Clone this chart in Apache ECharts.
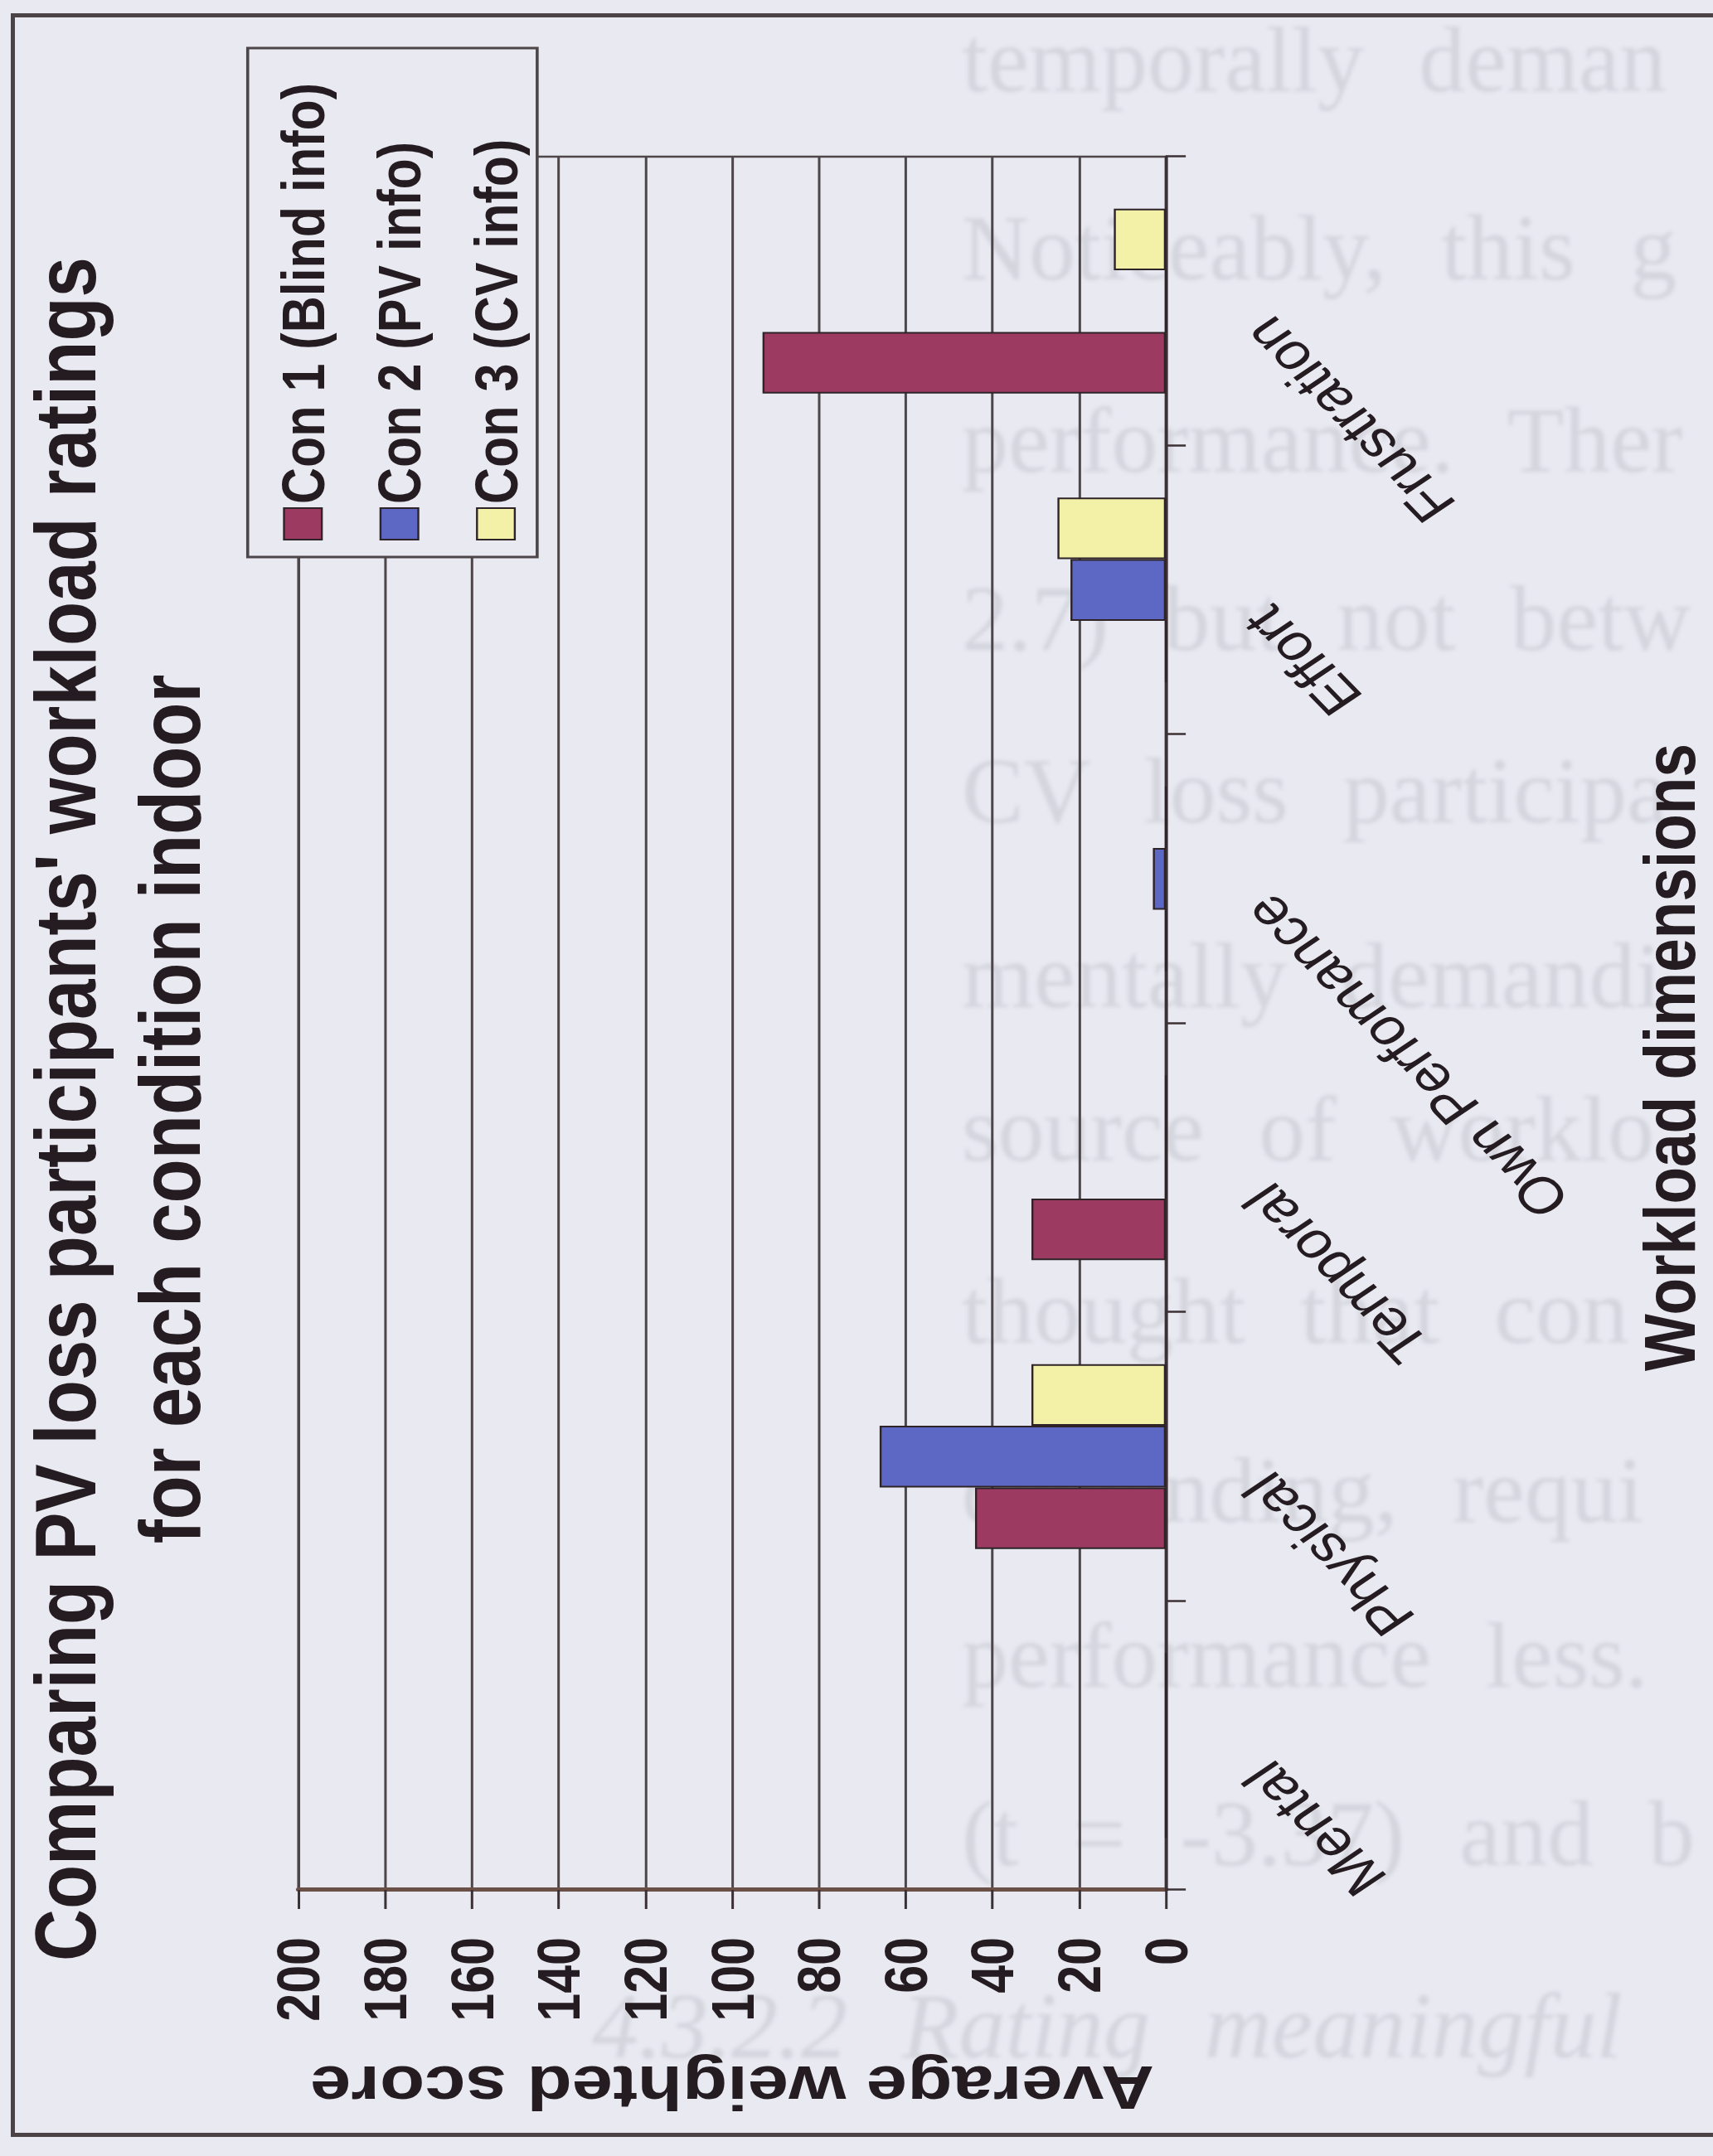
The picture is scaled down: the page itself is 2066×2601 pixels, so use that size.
<!DOCTYPE html>
<html>
<head>
<meta charset="utf-8">
<script src="https://cdn.jsdelivr.net/npm/echarts@6/dist/echarts.min.js"></script>
<style>
html,body{margin:0;padding:0;width:2066px;height:2601px;overflow:hidden;background:#e8e9f1;}
#page{position:absolute;left:0;top:0;width:2066px;height:2601px;overflow:hidden;background:#e8e9f1;}
.ghost{position:absolute;white-space:nowrap;font-family:'Liberation Serif','DejaVu Serif',serif;font-size:112px;line-height:140px;height:140px;color:#d4d5dd;word-spacing:38px;filter:blur(2px);}
#frame{position:absolute;left:13px;top:16px;width:2120px;height:2562px;border:5px solid #4b4346;box-sizing:border-box;}
#chart{position:absolute;left:0;top:0;width:2601px;height:1722px;transform-origin:0 0;transform:translate(0px,2601px) rotate(-90deg) scale(1,1.19977);}
</style>
</head>
<body>
<div id="page">
  <div class="ghost" style="left:1160px;top:2px;">temporally deman</div>
  <div class="ghost" style="left:1160px;top:229px;">Noticeably, this g</div>
  <div class="ghost" style="left:1160px;top:461px;">performance. Ther</div>
  <div class="ghost" style="left:1160px;top:676px;">2.7) but not betw</div>
  <div class="ghost" style="left:1160px;top:884px;">CV loss participa</div>
  <div class="ghost" style="left:1160px;top:1107px;">mentally demandi</div>
  <div class="ghost" style="left:1160px;top:1292px;">source of worklo</div>
  <div class="ghost" style="left:1160px;top:1512px;">thought that con</div>
  <div class="ghost" style="left:1160px;top:1728px;">demanding, requi</div>
  <div class="ghost" style="left:1160px;top:1927px;">performance less.</div>
  <div class="ghost" style="left:1160px;top:2142px;">(t = -3.37) and b</div>
  <div class="ghost" style="left:714px;top:2374px;font-style:italic;">4.3.2.2 Rating meaningful</div>
  <div id="frame"></div>
  <div id="chart"></div>
</div>
<script>
// ---- data ----
const categories = ['Mental', 'Physical', 'Temporal', 'Own Perfomance', 'Effort', 'Frustration'];
const seriesNames = ['Con 1 (Blind info)', 'Con 2 (PV info)', 'Con 3 (CV info)'];
const con1 = [0, 44, 31, 0, 0, 93];
const con2 = [0, 66, 0, 3, 22, 0];
const con3 = [0, 31, 0, 0, 25, 12];
const valueTicks = [0, 20, 40, 60, 80, 100, 120, 140, 160, 180, 200];
const titleLines = ["Comparing PV loss participants' workload ratings", 'for each condition indoor'];
const xName = 'Workload dimensions';
const yName = 'Average weighted score';

const colors = ['#9d3a62', '#5c68c4', '#f3f1a8'];
const ink = '#241c20';
const bg = '#e8e9f1';
const gridCol = '#4d4548';
const font = 'Liberation Sans, Arial, sans-serif';

const chart = echarts.init(document.getElementById('chart'), null, {renderer: 'svg', width: 2601, height: 1722});
const seriesData = [con1, con2, con3];
const option = {
  animation: false,
  backgroundColor: 'transparent',
  color: colors,
  textStyle: {fontFamily: font, color: ink},
  grid: {left: 321, right: 189, top: 300, bottom: 550, show: true, borderColor: gridCol, borderWidth: 2.5, backgroundColor: 'transparent'},
  legend: {
    orient: 'vertical', left: 1949, top: 274, padding: 0, itemGap: 36,
    itemWidth: 38, itemHeight: 38, icon: 'rect', z: 6,
    itemStyle: {borderColor: '#2e2428', borderWidth: 2},
    textStyle: {fontSize: 61, fontWeight: 'bold', lineHeight: 61, color: ink, fontFamily: font},
    data: seriesNames
  },
  graphic: [
    {type: 'rect', z: 5, shape: {x: 1929, y: 249, width: 614, height: 291},
     style: {fill: bg, stroke: gridCol, lineWidth: 3}},
    {type: 'text', z: 6, x: 1263, y: 13,
     style: {text: titleLines.join('\n'), fill: ink, fontSize: 87, fontWeight: 'bold', fontFamily: font,
             lineHeight: 105, align: 'center', textAlign: 'center', verticalAlign: 'top', textVerticalAlign: 'top'}}
  ],
  xAxis: {
    type: 'category', data: categories, boundaryGap: true,
    axisLine: {show: true, lineStyle: {color: '#3b3034', width: 3}},
    axisTick: {show: true, length: 20, lineStyle: {color: '#3b3034', width: 2.5}},
    axisLabel: {interval: 0, rotate: 39, margin: 126, fontSize: 62, color: ink, fontFamily: font,
                verticalAlign: 'bottom', lineHeight: 90},
    splitLine: {show: false},
    name: xName, nameLocation: 'middle', nameGap: 470,
    nameTextStyle: {fontSize: 73, fontWeight: 'bold', color: ink, fontFamily: font, padding: [0, 82, 0, 0]}
  },
  yAxis: {
    type: 'value', min: valueTicks[0], max: valueTicks[valueTicks.length - 1], interval: valueTicks[1] - valueTicks[0],
    axisLine: {show: true, lineStyle: {color: '#6b5048', width: 5}},
    axisTick: {show: true, length: 23, lineStyle: {color: '#3b3034', width: 2.5}},
    axisLabel: {margin: 57, fontSize: 61, fontWeight: 'bold', color: ink, fontFamily: font},
    splitLine: {show: true, lineStyle: {color: gridCol, width: 2.5}},
    name: yName, nameLocation: 'middle', nameRotate: 90, nameGap: 202,
    nameTextStyle: {fontSize: 74, fontWeight: 'bold', color: ink, fontFamily: font}
  },
  series: seriesNames.map((n, i) => ({
    name: n, type: 'bar', data: seriesData[i],
    barGap: '0%', barCategoryGap: '36%',
    itemStyle: {color: colors[i], borderColor: '#2e2428', borderWidth: 2}
  }))
};
chart.setOption(option);
</script>
</body>
</html>
